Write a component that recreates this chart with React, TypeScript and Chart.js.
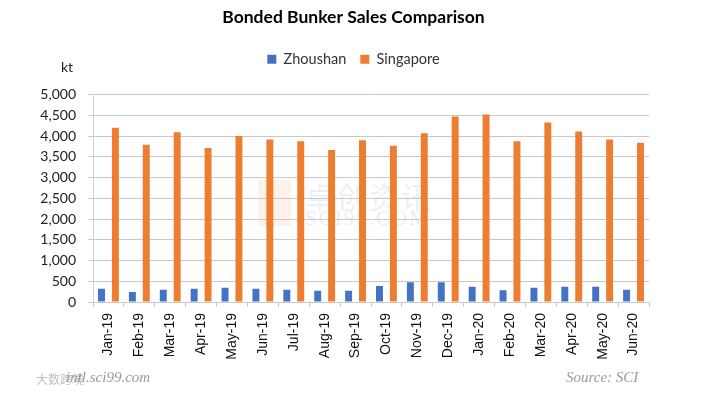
import React, { useEffect, useRef } from "react";
import { Chart, registerables } from "chart.js";

Chart.register(...registerables);

const categories = [
  "Jan-19", "Feb-19", "Mar-19", "Apr-19", "May-19", "Jun-19", "Jul-19", "Aug-19", "Sep-19",
  "Oct-19", "Nov-19", "Dec-19", "Jan-20", "Feb-20", "Mar-20", "Apr-20", "May-20", "Jun-20",
];
const zhoushan = [321, 241, 297, 321, 345, 321, 297, 273, 273, 385, 473, 473, 369, 281, 345, 369, 369, 297];
const singapore = [4197, 3788, 4093, 3708, 3997, 3917, 3876, 3660, 3900, 3764, 4069, 4470, 4518, 3876, 4326, 4109, 3917, 3836];
const yTicks = [0, 500, 1000, 1500, 2000, 2500, 3000, 3500, 4000, 4500, 5000];

const W = 707;
const H = 397;

export default function App() {
  const ref = useRef<HTMLCanvasElement | null>(null);

  useEffect(() => {
    document.body.style.margin = "0";
    const canvas = ref.current;
    if (!canvas) return;
    const chart = new Chart(canvas, {
      type: "bar",
      data: {
        labels: categories,
        datasets: [
          {
            label: "Zhoushan",
            data: zhoushan,
            backgroundColor: "#4472C4",
            categoryPercentage: 0.9,
            barPercentage: 0.5,
          },
          {
            label: "Singapore",
            data: singapore,
            backgroundColor: "#ED7D31",
            categoryPercentage: 0.9,
            barPercentage: 0.5,
          },
        ],
      },
      options: {
        animation: false,
        responsive: false,
        maintainAspectRatio: false,
        layout: { padding: { top: 0, left: 0, right: 0, bottom: 0 } },
        plugins: {
          title: {
            display: true,
            text: "Bonded Bunker Sales Comparison",
            color: "#000",
            font: { family: "Lato", size: 17.5, weight: "bold" },
            padding: { top: 7, bottom: 10 },
          },
          subtitle: {
            display: true,
            text: "",
            position: "top",
            weight: 500,
            font: { size: 10 },
            padding: { top: 0, bottom: 6 },
          },
          legend: {
            display: true,
            position: "top",
            labels: {
              color: "#333",
              font: { family: "Lato", size: 14.5 },
              boxWidth: 9,
              boxHeight: 9,
              padding: 14,
            },
          },
          tooltip: { enabled: false },
        },
        scales: {
          x: {
            offset: true,
            grid: {
              offset: true,
              drawOnChartArea: false,
              drawTicks: true,
              tickLength: 5,
              color: "#c8c8c8",
            },
            border: { display: true, color: "#c8c8c8" },
            ticks: {
              color: "#111",
              font: { family: "Liberation Sans", size: 14 },
              minRotation: 90,
              maxRotation: 90,
              autoSkip: false,
              padding: 6,
            },
            afterFit: (s: any) => {
              s.height = 95;
            },
          },
          y: {
            min: 0,
            max: 5000,
            afterBuildTicks: (s: any) => {
              s.ticks = yTicks.map((v) => ({ value: v }));
            },
            grid: {
              color: "#c8c8c8",
              drawTicks: true,
              tickLength: 5,
            },
            border: { display: true, color: "#d0d0d0" },
            ticks: {
              color: "#222",
              font: { family: "Lato", size: 14 },
              padding: 12,
              callback: (v: any) => Number(v).toLocaleString("en-US"),
            },
            afterFit: (s: any) => {
              s.width = 93;
            },
          },
          yRight: {
            position: "right",
            display: true,
            min: 0,
            max: 5000,
            grid: { display: false, drawTicks: false },
            border: { display: false },
            ticks: { display: false },
            afterFit: (s: any) => {
              s.width = 58;
            },
          },
        },
      },
    });
    return () => chart.destroy();
  }, []);

  const wm: React.CSSProperties = { position: "absolute", pointerEvents: "none", whiteSpace: "nowrap" };

  return (
    <div style={{ position: "relative", width: W, height: H, background: "#fff" }}>
      <div style={{ ...wm, left: 258, top: 180, width: 33, height: 46, background: "rgba(237,125,49,0.10)" }} />
      <div style={{ ...wm, left: 305, top: 173, fontFamily: "Noto Sans CJK SC", fontSize: 30, color: "rgba(170,185,210,0.22)", letterSpacing: 2 }}>卓创资讯</div>
      <div style={{ ...wm, left: 305, top: 206, fontFamily: "Liberation Serif", fontSize: 21, color: "rgba(170,185,210,0.25)", letterSpacing: 2 }}>SCI99.COM</div>
      <canvas ref={ref} width={W} height={H} style={{ position: "absolute", left: 0, top: 0, width: W, height: H }} />
      <div style={{ ...wm, left: 61, top: 58, fontFamily: "Lato", fontSize: 14, color: "#222" }}>kt</div>
      <div style={{ ...wm, left: 36, top: 370, fontFamily: "Noto Sans CJK SC", fontSize: 12, color: "rgba(150,150,150,0.6)" }}>大数跨境</div>
      <div style={{ ...wm, left: 66, top: 369, fontFamily: "Liberation Serif", fontStyle: "italic", fontSize: 15, color: "#999" }}>intl.sci99.com</div>
      <div style={{ ...wm, left: 566, top: 369, fontFamily: "Liberation Serif", fontStyle: "italic", fontSize: 15, color: "#999" }}>Source: SCI</div>
    </div>
  );
}
